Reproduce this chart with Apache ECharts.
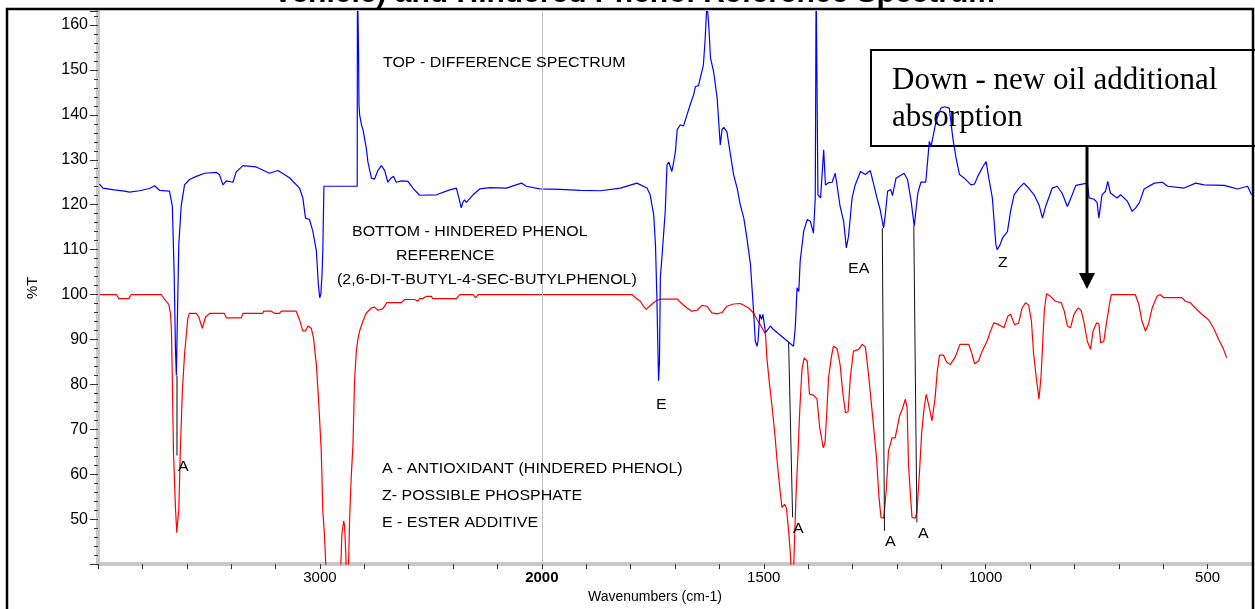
<!DOCTYPE html>
<html><head><meta charset="utf-8">
<script src="https://cdn.jsdelivr.net/npm/echarts@6/dist/echarts.min.js"></script>
<style>html,body{margin:0;padding:0;background:#fff}#c{width:1255px;height:609px}</style>
</head><body><div id="c"></div><script>
// ---- data ----
const xTickLabels = [3000, 2000, 1500, 1000, 500];
const diffWn = [3993,3978,3926,3881,3858,3813,3768,3745,3723,3678,3665,3657,3651,3647,3644,3636,3625,3610,3588,3557,3520,3467,3452,3437,3422,3392,3377,3347,3287,3227,3189,3137,3092,3077,3065,3047,3032,3016,3007,3001,2996,2991,2987,2982,2832,2831,2826,2824,2821,2813,2806,2799,2791,2784,2768,2754,2739,2723,2708,2694,2678,2668,2656,2633,2603,2581,2551,2475,2415,2385,2374,2363,2356,2348,2340,2310,2280,2235,2160,2092,2070,2010,1959,1913,1868,1823,1786,1763,1756,1748,1744,1741,1737,1735,1733,1729,1722,1718,1714,1707,1703,1699,1695,1688,1681,1673,1666,1658,1654,1647,1636,1632,1628,1624,1620,1613,1605,1598,1594,1590,1583,1575,1568,1560,1553,1545,1538,1530,1523,1519,1515,1513,1509,1505,1502,1496,1485,1478,1433,1429,1425,1421,1418,1410,1402,1395,1388,1384,1382,1380,1378,1376,1372,1365,1361,1354,1346,1339,1335,1328,1320,1314,1309,1301,1294,1282,1271,1260,1252,1245,1238,1230,1226,1221,1214,1210,1202,1184,1176,1168,1161,1153,1146,1135,1127,1123,1119,1112,1101,1092,1082,1074,1067,1059,1048,1033,1025,1018,1006,999,993,985,977,974,968,962,951,944,936,925,914,906,891,880,872,865,850,839,828,816,805,797,771,767,756,749,745,738,730,725,719,704,696,681,670,662,654,643,620,602,590,553,527,508,463,448,433,410,401];
const diffT = [124.6,123.7,123.3,123.0,122.8,123.1,123.6,124.2,123.2,123.0,119.7,105,88,82,90,111,119.8,124.4,125.6,126.3,127,127.2,126.6,124.4,125.3,125,127.3,128.7,128.4,127,127.6,126,123.7,121.5,117,116.7,114.1,109.7,102.2,99.3,100,104,109.7,124.1,124.1,170,154,142.2,140,137.8,136.7,136.3,132.6,129.6,125.9,125.7,127.6,128.7,127.6,125,126,126.3,125,125.3,125.2,123.7,122.1,122.2,123.3,123.7,121.5,119.3,120.5,121.1,120.5,122.2,123.5,123.8,123.7,124.8,124.1,123.5,123.4,123.2,123.1,123.7,124.8,123.7,122.2,117.8,111.1,100,80.8,85,103.7,108.9,118.5,128.9,129.5,127.4,129.5,131.9,136.7,137.8,137.5,140,142.2,144.5,146.3,146.5,151.1,157,165,160,152.6,149.6,143.7,133.3,136.7,137.2,136.2,131.1,126.7,123.7,120,117,112.6,106.7,96.3,89.6,88.5,89.6,95.6,94.5,95.6,91.5,93,92.2,88.5,92.6,101.5,100.7,107.4,114.1,116.7,116.3,113.7,121.5,170,170,122.2,122.2,121.5,132.2,124.4,124.9,125,127,124.4,119.6,116.3,110.4,113,121.5,124.4,127.4,126.7,127.6,124.4,121.5,119,114.8,118,123,123.4,122,125.9,127,125.6,120.8,115.2,122.5,125,125,134.1,133,132.6,138.5,141.5,141.8,141.5,134.8,130.5,126.7,125.9,124.4,124.6,126.3,128.5,129.6,125.9,121.5,111.1,110,111,112.6,114,118.5,122.2,123.7,124.8,124,122.2,120,117,119.6,123.7,124.1,122.6,119.6,122.2,124.3,124.8,121.5,121.2,120.5,117,122.2,123,125.2,122.6,121.5,122.2,120.8,118.5,119.3,120.4,123.5,124.8,125,124.1,123.7,124.8,124.4,124.3,123.9,123.5,124.1,122.2];
const refWn = [3993,3917,3906,3861,3850,3715,3700,3681,3673,3669,3666,3660,3651,3645,3640,3636,3629,3620,3610,3602,3595,3588,3557,3546,3530,3515,3497,3430,3422,3354,3347,3257,3254,3219,3204,3182,3174,3107,3092,3077,3065,3054,3039,3029,3016,3005,2994,2987,2979,2972,2957,2920,2907,2901,2893,2889,2884,2880,2872,2866,2859,2851,2844,2836,2829,2821,2806,2791,2768,2754,2739,2717,2698,2633,2618,2573,2558,2551,2536,2520,2498,2491,2385,2370,2310,2298,2287,1797,1789,1778,1771,1765,1756,1744,1733,1695,1688,1673,1662,1650,1639,1628,1617,1605,1594,1583,1568,1553,1545,1534,1523,1515,1508,1500,1496,1493,1487,1481,1475,1470,1464,1459,1453,1449,1444,1440,1437,1433,1431,1427,1423,1419,1414,1409,1402,1397,1388,1380,1374,1366,1362,1359,1354,1348,1343,1335,1328,1322,1316,1310,1305,1298,1286,1278,1271,1264,1256,1252,1246,1241,1236,1230,1228,1224,1219,1211,1204,1194,1188,1181,1177,1174,1170,1166,1159,1155,1149,1144,1139,1134,1127,1121,1114,1109,1104,1095,1088,1080,1069,1058,1038,1031,1025,1016,1008,997,989,982,970,959,950,944,935,926,918,910,903,897,892,886,880,875,871,868,863,854,843,830,823,816,809,801,792,785,779,771,764,758,750,745,741,734,726,720,717,663,655,648,640,633,625,614,607,599,558,550,539,528,513,498,487,475,464,457];
const refT = [100,100,99.1,99.1,100,100,98.9,97.8,95.6,91.9,83.7,65.2,52.6,47,50,52,65.2,78.5,86.7,91.1,94.8,95.8,95.8,95,92.5,95,95.8,95.8,94.8,94.8,95.8,95.8,96.3,96.3,95.8,95.8,96.3,96.3,94.4,91.9,91.9,93,92.5,90.4,84.4,75.6,65.2,51.9,46,38,25,25,38,46.7,49.6,48.5,43,36,38,50.4,59.3,66.7,80.7,87.4,90,91.9,94.1,95.9,97,97.2,96.5,96.8,98.2,98.2,98.9,98.9,98.5,99.1,99.1,99.6,99.6,99.1,99.1,100,100,99.3,100,100,99.3,98.5,97.4,96.7,97.5,98.5,99,99,98.3,97,96.3,96.5,97.6,97.4,95.9,95.7,96,97.4,97.9,98,97.6,97,95.9,94.4,93.3,91.9,91.1,85.9,80,74.8,68.9,63,57,52.6,53.3,52.5,47.4,42.2,36,38,44.4,56.3,64.4,74.1,83.3,85.9,85.2,77.8,77.6,76.7,70.4,65.9,67,72,81.5,85.9,88.5,88,84.4,78.2,73.7,73.9,81.5,87.4,87.8,88.9,88.3,82.2,74.1,70,63.7,55.6,50.4,50.2,52,56.5,65.2,68.1,68.1,73,74.5,76.7,74.8,62.2,56,50.4,50.2,51.5,60.8,69.6,74.5,77.8,74.8,71.9,77,83,86.5,86.5,85,84.4,86,88.9,88.9,86.8,84.6,85.2,87.4,89.6,91.9,93.7,93.3,92.6,95.2,95.6,93.3,93.6,97,98.2,97.6,94.1,86.7,81.5,76.7,82.2,90.4,96.3,100.2,99.6,98.5,98.2,96.3,93,92.6,95.6,97,96.5,94,89.6,87.8,91.9,93.7,93.5,89.3,89.5,94.8,98.5,100,100,97.8,94.1,91.9,93.5,97,99.6,100,99.3,99.3,98.5,98.2,97,95.6,94.4,92.6,90,87.8,85.9];
// leader lines for the peak labels (wavenumber pairs, %T pairs)
const leaderWn = [[3647,3647],[1444,1435],[1233,1228],[1162,1155]];
const leaderT  = [[81.9,64.2],[89.3,50.4],[114.8,47.4],[115.2,49.3]];

// split (two-scale) wavenumber axis: 4000-2000 compressed 2x relative to 2000-400
function toU(w){ return w >= 2000 ? (4000 - w) / 2 : 1000 + (2000 - w); }
function fromU(u){ return u <= 1000 ? 4000 - 2 * u : 2000 - (u - 1000); }
function pairs(wn, t){ return wn.map((w, i) => [toU(w), t[i]]); }

const chart = echarts.init(document.getElementById('c'), null, {renderer: 'canvas'});
const SANS = '"Liberation Sans", Arial, sans-serif';
function txt(s, x, y, sx){
  return {type:'text', x:x, y:y, scaleX: sx || 1.14, z: 10,
    style:{text:s, font:'14px ' + SANS, fill:'#000', align:'left', verticalAlign:'middle'}};
}
const option = {
  animation: false,
  backgroundColor: '#fff',
  grid: {left: 98, right: 3, top: 11.5, bottom: 44},
  xAxis: {
    type: 'value', min: 0, max: 2600, interval: 100,
    name: 'Wavenumbers (cm-1)', nameLocation: 'middle', nameGap: 25,
    nameTextStyle: {fontSize: 14, color: '#000', fontFamily: SANS, padding: [0, 40, 0, 0]},
    axisLine: {lineStyle: {color: '#c8c8c8', width: 4}},
    axisTick: {show: true, length: 5, lineStyle: {color: '#333'}},
    splitLine: {show: false},
    axisLabel: {
      color: '#000', fontSize: 15, fontFamily: SANS, margin: 6,
      formatter: function(v){
        const w = Math.round(fromU(v));
        if (w === 2000) return '{b|2000}';
        return xTickLabels.indexOf(w) >= 0 ? String(w) : '';
      },
      rich: {b: {fontWeight: 'bold', fontSize: 15, color: '#000', fontFamily: SANS}}
    }
  },
  yAxis: {
    type: 'value', min: 40, max: 163, interval: 10,
    name: '%T', nameLocation: 'middle', nameGap: 58, nameRotate: 90,
    nameTextStyle: {fontSize: 15, color: '#000', fontFamily: SANS},
    axisLine: {show: true, lineStyle: {color: '#c8c8c8', width: 4}},
    axisTick: {show: true, length: 8, lineStyle: {color: '#333'}},
    minorTick: {show: true, splitNumber: 5, length: 4, lineStyle: {color: '#333'}},
    splitLine: {show: false},
    axisLabel: {
      color: '#000', fontSize: 16, fontFamily: SANS, margin: 10,
      formatter: function(v){ return (v % 10 === 0 && v >= 50) ? String(v) : ''; }
    }
  },
  series: [
    {
      type: 'line', name: 'reference', data: pairs(refWn, refT), showSymbol: false, symbol: 'none',
      lineStyle: {color: '#ff0000', width: 1.2}, clip: true, z: 2,
      markLine: {
        silent: true, symbol: 'none', label: {show: false},
        lineStyle: {color: '#c0c0c0', width: 1, type: 'solid'},
        data: [{xAxis: toU(2000)}]
      }
    },
    {
      type: 'line', name: 'difference', data: pairs(diffWn, diffT), showSymbol: false, symbol: 'none',
      lineStyle: {color: '#0000ff', width: 1.2}, clip: true, z: 3,
      markLine: {
        silent: true, symbol: 'none', label: {show: false},
        lineStyle: {color: '#111', width: 1, type: 'solid'},
        data: leaderWn.map((p, i) => [
          {coord: [toU(p[0]), leaderT[i][0]], lineStyle: {color: i === 0 ? '#555' : '#111', width: i === 0 ? 1.5 : 1}},
          {coord: [toU(p[1]), leaderT[i][1]]}
        ])
      }
    }
  ],
  graphic: [
    {type:'rect', shape:{x:7, y:9, width:1246, height:620}, style:{fill:'none', stroke:'#000', lineWidth:2.5}, z:20},
    {type:'text', x:634, y:-6, z:20, style:{text:'Vehicle) and Hindered Phenol Reference Spectrum', font:'bold 30px ' + SANS, fill:'#000', align:'center', verticalAlign:'middle'}},
    txt('TOP - DIFFERENCE SPECTRUM', 383, 63),
    txt('BOTTOM - HINDERED PHENOL', 352, 232),
    txt('REFERENCE', 396, 256),
    txt('(2,6-DI-T-BUTYL-4-SEC-BUTYLPHENOL)', 337, 280),
    txt('A - ANTIOXIDANT (HINDERED PHENOL)', 382, 469),
    txt('Z- POSSIBLE PHOSPHATE', 382, 496),
    txt('E - ESTER ADDITIVE', 382, 523),
    txt('A', 178, 467),
    txt('E', 656, 405),
    txt('EA', 848, 269),
    txt('Z', 998, 263),
    txt('A', 793, 529),
    txt('A', 885, 542),
    txt('A', 918, 534),
    {type:'rect', shape:{x:871, y:50, width:390, height:96}, style:{fill:'none', stroke:'#000', lineWidth:2}, z:1},
    {type:'text', x:892, y:81, z:1, style:{text:'Down - new oil additional', font:'31px "Liberation Serif", "Times New Roman", serif', fill:'#000', align:'left', verticalAlign:'middle'}},
    {type:'text', x:892, y:118, z:1, style:{text:'absorption', font:'31px "Liberation Serif", "Times New Roman", serif', fill:'#000', align:'left', verticalAlign:'middle'}},
    {type:'line', shape:{x1:1087, y1:146, x2:1087, y2:276}, style:{stroke:'#000', lineWidth:3}, z:20},
    {type:'polygon', shape:{points:[[1079,273],[1095,273],[1087,289]]}, style:{fill:'#000'}, z:20}
  ]
};
chart.setOption(option);
</script></body></html>
